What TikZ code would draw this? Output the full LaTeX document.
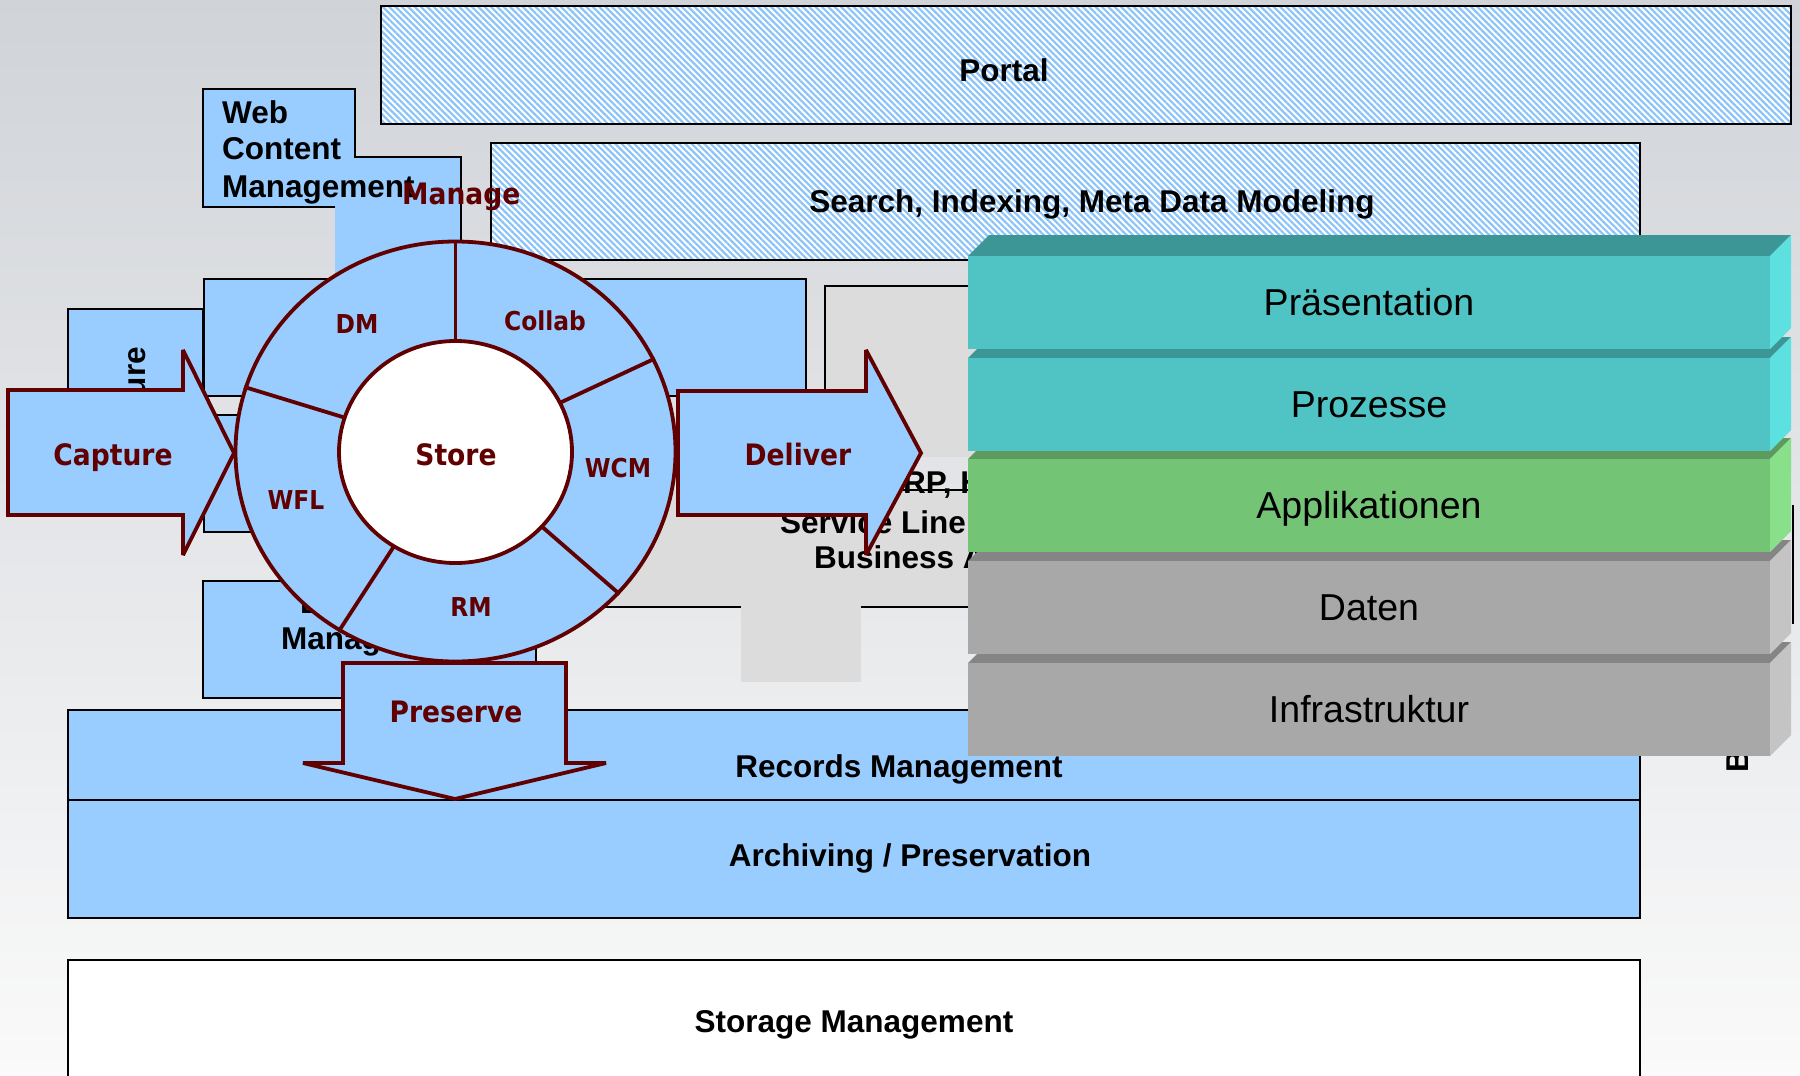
\documentclass[tikz,border=0pt]{standalone}
\usepackage{fontspec}
\setmainfont{Liberation Sans}
\newfontfamily\tahoma[FakeStretch=0.9]{DejaVu Sans}
\usetikzlibrary{patterns.meta,shapes.geometric}
\definecolor{ecmblue}{HTML}{99CCFF}
\definecolor{ecmred}{HTML}{600000}
\definecolor{hatchblue}{HTML}{8CC4FA}
\definecolor{greybox}{HTML}{DCDCDC}
\definecolor{bgtop}{HTML}{D0D3D8}
\definecolor{bgmid}{HTML}{E9E9EC}
\definecolor{bgbot}{HTML}{FAFAFA}
\definecolor{tealF}{HTML}{50C4C4}
\definecolor{tealT}{HTML}{3D9696}
\definecolor{tealS}{HTML}{5CE0E0}
\definecolor{greenF}{HTML}{74C476}
\definecolor{greenT}{HTML}{5C9A5E}
\definecolor{greenS}{HTML}{88E08A}
\definecolor{grayF}{HTML}{A8A8A8}
\definecolor{grayT}{HTML}{858585}
\definecolor{grayS}{HTML}{C4C4C4}
\begin{document}
\begin{tikzpicture}[x=1bp, y=-1bp,
  box/.style={draw=black, line width=2bp, fill=ecmblue},
  hatchbox/.style={draw=black, line width=2bp, preaction={fill=white},
    pattern={Lines[angle=-45,distance=4.5bp,line width=2.2bp]}, pattern color=hatchblue},
  edgeline/.style={draw=black, line width=2bp},
  redshape/.style={draw=ecmred, line width=3.8bp, fill=ecmblue, line join=miter, miter limit=4},
  redline/.style={draw=ecmred, line width=3.8bp},
  blk/.style={font=\fontsize{31.5bp}{37bp}\selectfont\bfseries, inner sep=0pt},
  redbig/.style={font=\tahoma\fontsize{29.5bp}{35bp}\selectfont\bfseries, text=ecmred, inner sep=0pt},
  redsmall/.style={font=\tahoma\fontsize{26bp}{31bp}\selectfont\bfseries, text=ecmred, inner sep=0pt},
  layertxt/.style={font=\fontsize{37.5bp}{44bp}\selectfont, inner sep=0pt}]
\useasboundingbox (0,0) rectangle (1800,1075);
\shade[top color=bgtop, middle color=bgmid, bottom color=bgbot] (0,0) rectangle (1800,1075);

% Portal and search
\draw[hatchbox] (381,6) rectangle (1791,124);
\node[blk, anchor=base] (portal) at (1004,81) {Portal};
\draw[hatchbox] (491,143) rectangle (1640,260);
\node[blk, anchor=base] (search) at (1092,212) {Search, Indexing, Meta Data Modeling};

% Web content management
\fill[ecmblue] (203,89) -- (355,89) -- (355,157) -- (461,157) -- (461,300) -- (335,300) -- (335,207) -- (203,207) -- cycle;
\draw[edgeline] (335,207) -- (203,207) -- (203,89) -- (355,89) -- (355,157) -- (461,157) -- (461,300);
\node[blk, anchor=base west] (web1) at (222,123) {Web};
\node[blk, anchor=base west] (web2) at (222,159) {Content};
\node[blk, anchor=base west] (web3) at (222,197) {Management};

% left boxes
\draw[box] (68,309) rectangle (203,500);
\node[blk, rotate=90, anchor=base east] (urelbl) at (145,347) {ure};
\draw[box] (204,279) rectangle (806,396);
\draw[box] (204,415) rectangle (560,532);
\draw[box] (203,581) rectangle (536,698);
\node[blk, anchor=base west] (dlbl) at (300,613) {D};
\node[blk, anchor=base west] (manag) at (281,649) {Manag};

% grey boxes
\fill[greybox] (825,286) rectangle (1000,457);
\draw[edgeline] (825,457) -- (825,286) -- (1000,286);
\fill[greybox] (560,490) rectangle (1000,607);
\fill[greybox] (741,607) rectangle (861,682);
\draw[edgeline] (700,490) -- (1000,490);
\draw[edgeline] (560,607) -- (741,607);
\draw[edgeline] (861,607) -- (1000,607);
\node[blk, anchor=base west] (erp1) at (903,493) {RP, H};
\node[blk, anchor=base west] (erp2) at (780,533) {Service Line};
\node[blk, anchor=base west] (erp3) at (814,568) {Business A};

% bottom layers
\draw[box] (68,710) rectangle (1640,800);
\node[blk, anchor=base] (records) at (899,777) {Records Management};
\draw[box] (68,800) rectangle (1640,918);
\node[blk, anchor=base] (archiving) at (910,866) {Archiving / Preservation};
\draw[edgeline, fill=white] (68,960) rectangle (1640,1090);
\node[blk, anchor=base] (storage) at (854,1032) {Storage Management};

% ECM circle
\node[ellipse, draw=ecmred, line width=3.8bp, fill=ecmblue, minimum width=440bp, minimum height=420bp, inner sep=0pt] (ring) at (455.5,451.5) {};
\foreach \a in {25,90,163,237,319} \draw[redline] (ring.center) -- (ring.\a);
\node[ellipse, draw=ecmred, line width=3.8bp, fill=white, minimum width=233bp, minimum height=222bp, inner sep=0pt] (core) at (455.5,452) {};
\node[redbig, anchor=base] (storelbl) at (456,465) {Store};
\node[redsmall, anchor=base] (dm) at (357,333) {DM};
\node[redsmall, anchor=base] (collab) at (545,330) {Collab};
\node[redsmall, anchor=base] (wcm) at (618,477) {WCM};
\node[redsmall, anchor=base] (wfl) at (296,509) {WFL};
\node[redsmall, anchor=base] (rm) at (471,616) {RM};

% arrows
\draw[redshape] (8,390) -- (183,390) -- (183,350) -- (234,453) -- (183,555) -- (183,515) -- (8,515) -- cycle;
\node[redbig, anchor=base] (capture) at (113,465) {Capture};
\draw[redshape] (678,391) -- (866,391) -- (866,350) -- (921,453) -- (866,555) -- (866,515) -- (678,515) -- cycle;
\node[redbig, anchor=base] (deliver) at (798,465) {Deliver};
\draw[redshape] (343,663) -- (566,663) -- (566,763) -- (606,763) -- (455,799) -- (303,763) -- (343,763) -- cycle;
\node[redbig, anchor=base] (preserve) at (456,722) {Preserve};

% right side
\node[blk, rotate=90, anchor=base west] (blbl) at (1748,773) {B};
\draw[edgeline] (1793,505) -- (1793,624);

% layer stack
\foreach \T/\fc/\tc/\sc/\lab/\nm in {663/grayF/grayT/grayS/Infrastruktur/infra,
    561/grayF/grayT/grayS/Daten/daten, 459/greenF/greenT/greenS/Applikationen/appl,
    358/tealF/tealT/tealS/Prozesse/proz, 256/tealF/tealT/tealS/Präsentation/praes}{
  \fill[\tc] (968,\T) -- (1770,\T) -- (1791,\T-21) -- (989,\T-21) -- cycle;
  \fill[\fc] (968,\T) rectangle (1770,\T+93);
  \fill[\sc] (1770,\T) -- (1791,\T-21) -- (1791,\T+72) -- (1770,\T+93) -- cycle;
  \node[layertxt, anchor=base] (\nm) at (1369,\T+59.5) {\lab};
}

\node[redbig, anchor=base west] (manage) at (402,204) {Manage};
\end{tikzpicture}
\end{document}
